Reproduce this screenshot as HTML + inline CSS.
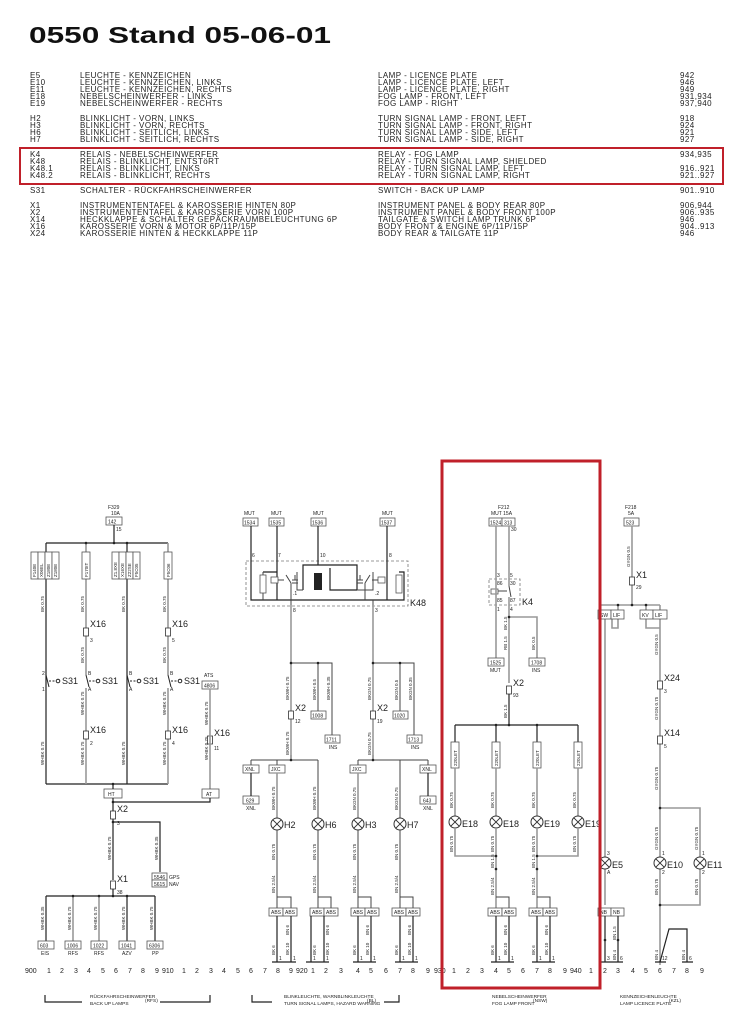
<!DOCTYPE html>
<html><head><meta charset="utf-8"><style>
html,body{margin:0;padding:0;background:#fff;width:730px;height:1024px;overflow:hidden}
svg{display:block}
text{font-family:"Liberation Sans",sans-serif;fill:#222}
.t{font-size:8px;letter-spacing:.45px}
.s{font-size:5px}
.v{font-size:4.5px}
.b{font-size:9px}
.w{stroke:#444;stroke-width:1;fill:none}
.g{stroke:#999;stroke-width:1.6;fill:none}
.k{stroke:#222;stroke-width:1.2;fill:none}
.bx{fill:#fff;stroke:#555;stroke-width:.8}
.d{stroke:#777;stroke-width:.8;fill:none;stroke-dasharray:3,2}
</style></head><body>
<svg width="730" height="1024" viewBox="0 0 730 1024" xmlns="http://www.w3.org/2000/svg">
<defs>
<g id="lamp"><circle r="6" fill="#fff" stroke="#333" stroke-width="1"/><path d="M-4.2 -4.2L4.2 4.2M4.2 -4.2L-4.2 4.2" stroke="#333" stroke-width="1"/></g>
<g id="conn"><rect x="-2.5" y="-4" width="5" height="8" fill="#fff" stroke="#333" stroke-width=".8"/></g>
<g id="dot"><circle r="1.3" fill="#222"/></g>
</defs>
<text x="29" y="43" textLength="302" lengthAdjust="spacingAndGlyphs" style="font-size:23px;font-weight:bold;fill:#111">0550 Stand 05-06-01</text>

<g class="t">
<text x="30" y="78">E5</text><text x="80" y="78">LEUCHTE - KENNZEICHEN</text><text x="378" y="78">LAMP - LICENCE PLATE</text><text x="680" y="78">942</text>
<text x="30" y="85">E10</text><text x="80" y="85">LEUCHTE - KENNZEICHEN, LINKS</text><text x="378" y="85">LAMP - LICENCE PLATE, LEFT</text><text x="680" y="85">946</text>
<text x="30" y="92">E11</text><text x="80" y="92">LEUCHTE - KENNZEICHEN, RECHTS</text><text x="378" y="92">LAMP - LICENCE PLATE, RIGHT</text><text x="680" y="92">949</text>
<text x="30" y="99">E18</text><text x="80" y="99">NEBELSCHEINWERFER - LINKS</text><text x="378" y="99">FOG LAMP - FRONT, LEFT</text><text x="680" y="99">931,934</text>
<text x="30" y="106">E19</text><text x="80" y="106">NEBELSCHEINWERFER - RECHTS</text><text x="378" y="106">FOG LAMP - RIGHT</text><text x="680" y="106">937,940</text>
<text x="30" y="121">H2</text><text x="80" y="121">BLINKLICHT - VORN, LINKS</text><text x="378" y="121">TURN SIGNAL LAMP - FRONT, LEFT</text><text x="680" y="121">918</text>
<text x="30" y="128">H3</text><text x="80" y="128">BLINKLICHT - VORN, RECHTS</text><text x="378" y="128">TURN SIGNAL LAMP - FRONT, RIGHT</text><text x="680" y="128">924</text>
<text x="30" y="135">H6</text><text x="80" y="135">BLINKLICHT - SEITLICH, LINKS</text><text x="378" y="135">TURN SIGNAL LAMP - SIDE, LEFT</text><text x="680" y="135">921</text>
<text x="30" y="142">H7</text><text x="80" y="142">BLINKLICHT - SEITLICH, RECHTS</text><text x="378" y="142">TURN SIGNAL LAMP - SIDE, RIGHT</text><text x="680" y="142">927</text>
<text x="30" y="157">K4</text><text x="80" y="157">RELAIS - NEBELSCHEINWERFER</text><text x="378" y="157">RELAY - FOG LAMP</text><text x="680" y="157">934,935</text>
<text x="30" y="164">K48</text><text x="80" y="164">RELAIS - BLINKLICHT, ENTSTöRT</text><text x="378" y="164">RELAY - TURN SIGNAL LAMP, SHIELDED</text>
<text x="30" y="171">K48.1</text><text x="80" y="171">RELAIS - BLINKLICHT, LINKS</text><text x="378" y="171">RELAY - TURN SIGNAL LAMP, LEFT</text><text x="680" y="171">916..921</text>
<text x="30" y="178">K48.2</text><text x="80" y="178">RELAIS - BLINKLICHT, RECHTS</text><text x="378" y="178">RELAY - TURN SIGNAL LAMP, RIGHT</text><text x="680" y="178">921..927</text>
<text x="30" y="193">S31</text><text x="80" y="193">SCHALTER - RÜCKFAHRSCHEINWERFER</text><text x="378" y="193">SWITCH - BACK UP LAMP</text><text x="680" y="193">901..910</text>
<text x="30" y="208">X1</text><text x="80" y="208">INSTRUMENTENTAFEL &amp; KAROSSERIE HINTEN 80P</text><text x="378" y="208">INSTRUMENT PANEL &amp; BODY REAR 80P</text><text x="680" y="208">906,944</text>
<text x="30" y="215">X2</text><text x="80" y="215">INSTRUMENTENTAFEL &amp; KAROSSERIE VORN 100P</text><text x="378" y="215">INSTRUMENT PANEL &amp; BODY FRONT 100P</text><text x="680" y="215">906..935</text>
<text x="30" y="222">X14</text><text x="80" y="222">HECKKLAPPE &amp; SCHALTER GEPÄCKRAUMBELEUCHTUNG 6P</text><text x="378" y="222">TAILGATE &amp; SWITCH LAMP TRUNK 6P</text><text x="680" y="222">946</text>
<text x="30" y="229">X16</text><text x="80" y="229">KAROSSERIE VORN &amp; MOTOR  6P/11P/15P</text><text x="378" y="229">BODY FRONT &amp; ENGINE 6P/11P/15P</text><text x="680" y="229">904..913</text>
<text x="30" y="236">X24</text><text x="80" y="236">KAROSSERIE HINTEN &amp; HECKKLAPPE 11P</text><text x="378" y="236">BODY REAR &amp; TAILGATE 11P</text><text x="680" y="236">946</text>
</g>
<rect x="20" y="148" width="703" height="36" fill="none" stroke="#c0202a" stroke-width="2"/>

<!-- ===== LEFT: RFS ===== -->
<text x="108" y="509" class="s">F329</text><text x="111" y="515" class="s">10A</text>
<rect x="106" y="517" width="16" height="8" class="bx"/><text x="108" y="523.5" class="s">142</text><text x="116" y="531" class="s">15</text>
<path class="k" d="M114 525V543M46 543H168M46 543V784M127 543V784M46 784H168"/>
<path class="g" d="M86 543V675M168 543V675M86 688V784M168 688V784"/>
<use href="#dot" x="86" y="543"/><use href="#dot" x="114" y="543"/><use href="#dot" x="127" y="543"/>
<g class="bx"><rect x="31" y="552" width="7" height="27"/><rect x="38" y="552" width="7" height="27"/><rect x="45" y="552" width="7" height="27"/><rect x="52" y="552" width="7" height="27"/>
<rect x="82" y="552" width="8" height="27"/><rect x="112" y="552" width="7" height="27"/><rect x="119" y="552" width="7" height="27"/><rect x="126" y="552" width="7" height="27"/><rect x="133" y="552" width="7" height="27"/><rect x="164" y="552" width="8" height="27"/></g>
<g class="v"><text transform="translate(36,577) rotate(-90)">F140E</text><text transform="translate(43,577) rotate(-90)">X06EL</text><text transform="translate(50,577) rotate(-90)">Z180E</text><text transform="translate(57,577) rotate(-90)">Z180E</text>
<text transform="translate(88,577) rotate(-90)">F170IT</text><text transform="translate(117,577) rotate(-90)">Z1.8XE</text><text transform="translate(124,577) rotate(-90)">X16XE</text><text transform="translate(131,577) rotate(-90)">Z22SE</text><text transform="translate(138,577) rotate(-90)">F5C05</text><text transform="translate(170,577) rotate(-90)">F5C06</text>
<text transform="translate(44,612) rotate(-90)">BK 0.75</text><text transform="translate(84,612) rotate(-90)">BK 0.75</text><text transform="translate(125,612) rotate(-90)">BK 0.75</text><text transform="translate(166,612) rotate(-90)">BK 0.75</text>
<text transform="translate(84,663) rotate(-90)">BK 0.75</text><text transform="translate(166,663) rotate(-90)">BK 0.75</text>
<text transform="translate(44,765) rotate(-90)">WHBK 0.75</text><text transform="translate(84,765) rotate(-90)">WHBK 0.75</text><text transform="translate(125,765) rotate(-90)">WHBK 0.75</text><text transform="translate(166,765) rotate(-90)">WHBK 0.75</text>
<text transform="translate(84,715) rotate(-90)">WHBK 0.75</text><text transform="translate(166,715) rotate(-90)">WHBK 0.75</text><text transform="translate(208,725) rotate(-90)">WHBK 0.75</text><text transform="translate(208,760) rotate(-90)">WHBK 0.75</text>
<text transform="translate(111,860) rotate(-90)">WHBK 0.75</text><text transform="translate(158,860) rotate(-90)">WHBK 0.35</text>
<text transform="translate(44,930) rotate(-90)">WHBK 0.35</text><text transform="translate(71,930) rotate(-90)">WHBK 0.75</text><text transform="translate(97,930) rotate(-90)">WHBK 0.75</text><text transform="translate(125,930) rotate(-90)">WHBK 0.75</text><text transform="translate(153,930) rotate(-90)">WHBK 0.75</text></g>
<use href="#conn" x="86" y="632"/><use href="#conn" x="168" y="632"/><use href="#conn" x="86" y="735"/><use href="#conn" x="168" y="735"/><use href="#conn" x="210" y="740"/>
<g class="b"><text x="90" y="627">X16</text><text x="172" y="627">X16</text><text x="90" y="733">X16</text><text x="172" y="733">X16</text><text x="214" y="736">X16</text></g>
<g class="s"><text x="90" y="642">3</text><text x="172" y="642">5</text><text x="90" y="745">2</text><text x="172" y="745">4</text><text x="214" y="750">11</text></g>
<g stroke="#222" stroke-width="1" fill="none">
<path d="M46 675L49 687M86 675L89 687M127 675L130 687M168 675L171 687"/>
<path d="M49 681H56M89 681H96M130 681H137M171 681H178" stroke-dasharray="2,1.5"/>
<circle cx="58" cy="681" r="1.8"/><circle cx="98" cy="681" r="1.8"/><circle cx="139" cy="681" r="1.8"/><circle cx="180" cy="681" r="1.8"/></g>
<g class="b"><text x="62" y="684">S31</text><text x="102" y="684">S31</text><text x="143" y="684">S31</text><text x="184" y="684">S31</text></g>
<g class="s"><text x="42" y="675">2</text><text x="42" y="691">1</text><text x="88" y="675">B</text><text x="88" y="691">A</text><text x="129" y="675">B</text><text x="129" y="691">A</text><text x="170" y="675">B</text><text x="170" y="691">A</text></g>
<text x="204" y="677" class="s">ATS</text><rect x="202" y="681" width="16" height="8" class="bx"/><text x="204" y="687.5" class="s">4806</text>
<path class="g" d="M210 689V789"/>
<rect x="104" y="789" width="18" height="9" class="bx"/><text x="108" y="796" class="s">HT</text>
<rect x="202" y="789" width="17" height="9" class="bx"/><text x="206" y="796" class="s">AT</text>
<path class="k" d="M113 784V789M113 798V880M210 798V802H113M113 822H160V872"/>
<use href="#dot" x="113" y="784"/><use href="#dot" x="113" y="802"/><use href="#dot" x="113" y="822"/>
<use href="#conn" x="113" y="815"/><text x="117" y="812" class="b">X2</text><text x="117" y="825" class="s">3</text>
<rect x="152" y="873" width="15" height="7" class="bx"/><rect x="152" y="880" width="15" height="7" class="bx"/>
<text x="154" y="879" class="s">5546</text><text x="154" y="886" class="s">5615</text><text x="169" y="879" class="s">GPS</text><text x="169" y="886" class="s">NAV</text>
<use href="#conn" x="113" y="885"/><text x="117" y="882" class="b">X1</text><text x="117" y="894" class="s">38</text>
<path class="k" d="M113 889V896M46 896H155M46 896V941M127 896V941M155 896V941"/>
<path class="g" d="M73 896V941M99 896V941"/>
<use href="#dot" x="73" y="896"/><use href="#dot" x="99" y="896"/><use href="#dot" x="113" y="896"/><use href="#dot" x="127" y="896"/>
<g class="bx"><rect x="38" y="941" width="16" height="8"/><rect x="65" y="941" width="16" height="8"/><rect x="91" y="941" width="16" height="8"/><rect x="119" y="941" width="16" height="8"/><rect x="147" y="941" width="16" height="8"/></g>
<g class="s"><text x="40" y="947.5">603</text><text x="67" y="947.5">1006</text><text x="93" y="947.5">1022</text><text x="121" y="947.5">1041</text><text x="149" y="947.5">6306</text>
<text x="41" y="955">EIS</text><text x="68" y="955">RFS</text><text x="94" y="955">RFS</text><text x="122" y="955">AZV</text><text x="152" y="955">PP</text></g>

<!-- ===== MIDDLE: BL ===== -->
<g class="s"><text x="244" y="515">MUT</text><text x="271" y="515">MUT</text><text x="313" y="515">MUT</text><text x="382" y="515">MUT</text></g>
<g class="bx"><rect x="243" y="518" width="15" height="8"/><rect x="269" y="518" width="15" height="8"/><rect x="311" y="518" width="15" height="8"/><rect x="380" y="518" width="15" height="8"/></g>
<g class="s"><text x="244" y="524.5">1534</text><text x="270" y="524.5">1535</text><text x="312" y="524.5">1536</text><text x="381" y="524.5">1537</text>
<text x="252" y="557">6</text><text x="278" y="557">7</text><text x="320" y="557">10</text><text x="389" y="557">8</text><text x="293" y="612">8</text><text x="375" y="612">3</text></g>
<rect x="246" y="561" width="162" height="45" class="d"/><text x="410" y="606" class="b">K48</text>
<path class="k" d="M251 526V600H404V572H399M277 526V600M318 526V565M387 526V600M263 572H277M318 565H357V590M318 565H303V590M357 590H330V568"/>
<path class="w" d="M263 572V600M297 572V590H303M373 572V590H357M291 600V605M373 600V605"/>
<rect x="260" y="575" width="6" height="18" class="bx"/><rect x="396" y="575" width="6" height="18" class="bx"/>
<rect x="271" y="577" width="7" height="6" class="bx"/><rect x="378" y="577" width="7" height="6" class="bx"/>
<rect x="314" y="573" width="8" height="17" fill="#222"/>
<path class="w" d="M278 580H284M286 575L291 583M291 583V600M378 580H372M370 575L365 583M365 583V600M295 575V580M292 580H298M292 583H298M360 575V580M357 580H363M357 583H363"/>
<g class="s"><text x="293" y="595">.1</text><text x="375" y="595">.2</text></g>
<path class="g" d="M291 605V755M373 605V755"/>
<path class="w" d="M291 663H332V735M318 663V711M373 663H414V735M400 663V711"/>
<use href="#dot" x="291" y="663"/><use href="#dot" x="318" y="663"/><use href="#dot" x="373" y="663"/><use href="#dot" x="400" y="663"/>
<g class="bx"><rect x="311" y="711" width="15" height="8"/><rect x="325" y="735" width="15" height="8"/><rect x="393" y="711" width="15" height="8"/><rect x="407" y="735" width="15" height="8"/></g>
<g class="s"><text x="312" y="717.5">1008</text><text x="326" y="741.5">1711</text><text x="394" y="717.5">1020</text><text x="408" y="741.5">1713</text><text x="329" y="749">INS</text><text x="411" y="749">INS</text></g>
<use href="#conn" x="291" y="715"/><use href="#conn" x="373" y="715"/>
<g class="b"><text x="295" y="711">X2</text><text x="377" y="711">X2</text></g><g class="s"><text x="295" y="723">12</text><text x="377" y="723">19</text></g>
<path class="w" d="M291 755V760M251 760H318M251 760V766M277 760V766M318 760V818M373 755V760M358 760H428M358 760V766M400 760V818M428 760V766"/>
<use href="#dot" x="291" y="760"/><use href="#dot" x="373" y="760"/>
<g class="bx"><rect x="243" y="765" width="16" height="8"/><rect x="269" y="765" width="16" height="8"/><rect x="350" y="765" width="16" height="8"/><rect x="420" y="765" width="16" height="8"/>
<rect x="243" y="796" width="16" height="8"/><rect x="420" y="796" width="16" height="8"/></g>
<g class="s"><text x="245" y="771">XNL</text><text x="271" y="771">JXC</text><text x="352" y="771">JXC</text><text x="422" y="771">XNL</text>
<text x="246" y="802.5">629</text><text x="423" y="802.5">643</text><text x="246" y="810">XNL</text><text x="423" y="810">XNL</text></g>
<path class="k" d="M251 773V796M428 773V796"/>
<path class="g" d="M277 773V818M358 773V818"/>
<use href="#lamp" x="277" y="824"/><use href="#lamp" x="318" y="824"/><use href="#lamp" x="358" y="824"/><use href="#lamp" x="400" y="824"/>
<g class="b"><text x="284" y="828">H2</text><text x="325" y="828">H6</text><text x="365" y="828">H3</text><text x="407" y="828">H7</text></g>
<path class="w" d="M277 830V908M318 830V908M358 830V908M400 830V908"/>
<path class="w" d="M277 897H291V908M318 897H331V908M358 897H371V908M400 897H413V908"/>
<g class="bx"><rect x="269" y="908" width="14" height="8"/><rect x="283" y="908" width="14" height="8"/><rect x="310" y="908" width="14" height="8"/><rect x="324" y="908" width="14" height="8"/><rect x="351" y="908" width="14" height="8"/><rect x="365" y="908" width="14" height="8"/><rect x="392" y="908" width="14" height="8"/><rect x="406" y="908" width="14" height="8"/></g>
<g class="s"><text x="271" y="914">ABS</text><text x="285" y="914">ABS</text><text x="312" y="914">ABS</text><text x="326" y="914">ABS</text><text x="353" y="914">ABS</text><text x="367" y="914">ABS</text><text x="394" y="914">ABS</text><text x="408" y="914">ABS</text></g>
<path class="k" d="M277 916V962M291 916V962M311 916V962M324 916V962M358 916V962M371 916V962M400 916V962M413 916V962"/>
<g class="v">
<text transform="translate(289,755) rotate(-90)">BKWH 0.75</text><text transform="translate(289,700) rotate(-90)">BKWH 0.75</text><text transform="translate(316,700) rotate(-90)">BKWH 0.5</text><text transform="translate(330,700) rotate(-90)">BKWH 0.35</text>
<text transform="translate(371,755) rotate(-90)">BKGN 0.75</text><text transform="translate(371,700) rotate(-90)">BKGN 0.75</text><text transform="translate(398,700) rotate(-90)">BKGN 0.5</text><text transform="translate(412,700) rotate(-90)">BKGN 0.35</text>
<text transform="translate(275,810) rotate(-90)">BKWH 0.75</text><text transform="translate(316,810) rotate(-90)">BKWH 0.75</text><text transform="translate(356,810) rotate(-90)">BKGN 0.75</text><text transform="translate(398,810) rotate(-90)">BKGN 0.75</text>
<text transform="translate(275,860) rotate(-90)">BN 0.75</text><text transform="translate(316,860) rotate(-90)">BN 0.75</text><text transform="translate(356,860) rotate(-90)">BN 0.75</text><text transform="translate(398,860) rotate(-90)">BN 0.75</text>
<text transform="translate(275,893) rotate(-90)">BN 2.5/4</text><text transform="translate(316,893) rotate(-90)">BN 2.5/4</text><text transform="translate(356,893) rotate(-90)">BN 2.5/4</text><text transform="translate(398,893) rotate(-90)">BN 2.5/4</text>
<text transform="translate(275,955) rotate(-90)">BK 6</text><text transform="translate(289,955) rotate(-90)">BK 10</text><text transform="translate(316,955) rotate(-90)">BK 6</text><text transform="translate(329,955) rotate(-90)">BK 10</text><text transform="translate(356,955) rotate(-90)">BK 6</text><text transform="translate(369,955) rotate(-90)">BK 10</text><text transform="translate(398,955) rotate(-90)">BK 6</text><text transform="translate(411,955) rotate(-90)">BK 10</text>
<text transform="translate(289,935) rotate(-90)">BN 6</text><text transform="translate(329,935) rotate(-90)">BN 6</text><text transform="translate(369,935) rotate(-90)">BN 6</text><text transform="translate(411,935) rotate(-90)">BN 6</text></g>

<!-- ===== FOG (NSW) ===== -->
<text x="498" y="509" class="s">F212</text><text x="491" y="515" class="s">MUT  15A</text>
<g class="bx"><rect x="489" y="518" width="13" height="8"/><rect x="502" y="518" width="13" height="8"/></g>
<g class="s"><text x="490" y="524.5">1524</text><text x="504" y="524.5">313</text><text x="511" y="531">30</text></g>
<rect x="489" y="579" width="31" height="26" class="d"/><text x="522" y="605" class="b">K4</text>
<g class="s"><text x="497" y="577">3</text><text x="510" y="577">5</text><text x="497" y="585">86</text><text x="510" y="585">30</text><text x="497" y="602">85</text><text x="510" y="602">87</text><text x="497" y="611">1</text><text x="510" y="611">4</text></g>
<rect x="491" y="589" width="7" height="5" class="bx"/><path class="w" d="M498 591H507M509 586L511 597"/>
<path class="g" d="M496 526V658M509 526V586M509 597V683M509 617H537V658"/>
<use href="#dot" x="509" y="617"/>
<g class="bx"><rect x="488" y="658" width="16" height="8"/><rect x="529" y="658" width="16" height="8"/></g>
<g class="s"><text x="490" y="664.5">1525</text><text x="531" y="664.5">1708</text><text x="490" y="672">MUT</text><text x="532" y="672">INS</text></g>
<use href="#conn" x="509" y="690"/><text x="513" y="686" class="b">X2</text><text x="513" y="697" class="s">93</text>
<path class="k" d="M509 694V725M455 725H578M455 725V742M496 725V742M537 725V742M578 725V742"/>
<use href="#dot" x="496" y="725"/><use href="#dot" x="509" y="725"/><use href="#dot" x="537" y="725"/>
<g class="bx"><rect x="451" y="742" width="8" height="26"/><rect x="492" y="742" width="8" height="26"/><rect x="533" y="742" width="8" height="26"/><rect x="574" y="742" width="8" height="26"/></g>
<g class="v"><text transform="translate(457,766) rotate(-90)">220LET</text><text transform="translate(498,766) rotate(-90)">220LET</text><text transform="translate(539,766) rotate(-90)">220LET</text><text transform="translate(580,766) rotate(-90)">220LET</text></g>
<path class="g" d="M455 768V816M496 768V816M537 768V816M578 768V816"/>
<use href="#lamp" x="455" y="822"/><use href="#lamp" x="496" y="822"/><use href="#lamp" x="537" y="822"/><use href="#lamp" x="578" y="822"/>
<g class="b"><text x="462" y="827">E18</text><text x="503" y="827">E18</text><text x="544" y="827">E19</text><text x="585" y="827">E19</text></g>
<path class="g" d="M455 828V856H496M537 856H578V828M496 828V908M537 828V908"/>
<path class="w" d="M496 897H509V908M537 897H550V908"/>
<use href="#dot" x="496" y="856"/><use href="#dot" x="537" y="856"/><use href="#dot" x="496" y="869"/><use href="#dot" x="537" y="869"/>
<g class="bx"><rect x="488" y="908" width="14" height="8"/><rect x="502" y="908" width="14" height="8"/><rect x="529" y="908" width="14" height="8"/><rect x="543" y="908" width="14" height="8"/></g>
<g class="s"><text x="490" y="914">ABS</text><text x="504" y="914">ABS</text><text x="531" y="914">ABS</text><text x="545" y="914">ABS</text></g>
<path class="k" d="M496 916V962M509 916V962M537 916V962M550 916V962"/>
<g class="v"><text transform="translate(507,650) rotate(-90)">RB 1.5</text><text transform="translate(507,630) rotate(-90)">BK 1.5</text><text transform="translate(535,650) rotate(-90)">BK 0.5</text><text transform="translate(507,718) rotate(-90)">BK 1.5</text>
<text transform="translate(453,808) rotate(-90)">BK 0.75</text><text transform="translate(494,808) rotate(-90)">BK 0.75</text><text transform="translate(535,808) rotate(-90)">BK 0.75</text><text transform="translate(576,808) rotate(-90)">BK 0.75</text>
<text transform="translate(453,852) rotate(-90)">BN 0.75</text><text transform="translate(494,852) rotate(-90)">BN 0.75</text><text transform="translate(535,852) rotate(-90)">BN 0.75</text><text transform="translate(576,852) rotate(-90)">BN 0.75</text>
<text transform="translate(494,868) rotate(-90)">BN 1.5</text><text transform="translate(535,868) rotate(-90)">BN 1.5</text><text transform="translate(494,895) rotate(-90)">BN 2.5/4</text><text transform="translate(535,895) rotate(-90)">BN 2.5/4</text>
<text transform="translate(494,955) rotate(-90)">BK 6</text><text transform="translate(507,955) rotate(-90)">BK 10</text><text transform="translate(535,955) rotate(-90)">BK 6</text><text transform="translate(548,955) rotate(-90)">BK 10</text><text transform="translate(507,935) rotate(-90)">BN 6</text><text transform="translate(548,935) rotate(-90)">BN 6</text></g>

<!-- ===== KZL ===== -->
<text x="625" y="509" class="s">F218</text><text x="628" y="515" class="s">5A</text>
<rect x="624" y="518" width="15" height="8" class="bx"/><text x="626" y="524.5" class="s">523</text>
<path class="g" d="M632 526V605M600 605H660M600 605V610M618 605V610M646 605V610M660 605V610M612 619V628H618V619M646 619V628H660M605 619V905M660 619V965"/>
<use href="#dot" x="618" y="605"/><use href="#dot" x="646" y="605"/><use href="#dot" x="632" y="605"/>
<use href="#conn" x="632" y="581"/><text x="636" y="578" class="b">X1</text><text x="636" y="589" class="s">29</text>
<g class="bx"><rect x="598" y="610" width="13" height="9"/><rect x="611" y="610" width="13" height="9"/><rect x="640" y="610" width="13" height="9"/><rect x="653" y="610" width="14" height="9"/></g>
<g class="s"><text x="600" y="617">SW</text><text x="613" y="617">LIF</text><text x="642" y="617">KV</text><text x="655" y="617">LIF</text></g>
<use href="#conn" x="660" y="685"/><text x="664" y="681" class="b">X24</text><text x="664" y="693" class="s">3</text>
<use href="#conn" x="660" y="740"/><text x="664" y="736" class="b">X14</text><text x="664" y="748" class="s">5</text>
<path class="g" d="M660 808H700V857M700 869V905H660"/>
<use href="#dot" x="660" y="808"/><use href="#dot" x="660" y="905"/>
<use href="#lamp" x="605" y="863"/><use href="#lamp" x="660" y="863"/><use href="#lamp" x="700" y="863"/>
<g class="b"><text x="612" y="868">E5</text><text x="667" y="868">E10</text><text x="707" y="868">E11</text></g>
<g class="s"><text x="607" y="855">3</text><text x="607" y="874">A</text><text x="662" y="855">1</text><text x="662" y="874">2</text><text x="702" y="855">1</text><text x="702" y="874">2</text></g>
<g class="bx"><rect x="598" y="908" width="13" height="8"/><rect x="611" y="908" width="13" height="8"/></g>
<g class="s"><text x="600" y="914">NB</text><text x="613" y="914">NB</text></g>
<path class="k" d="M605 916V962M618 916V962M660 962L669 929H687V962"/>
<use href="#dot" x="605" y="940"/><use href="#dot" x="618" y="940"/>
<g class="v"><text transform="translate(630,567) rotate(-90)">GYGN 0.5</text><text transform="translate(658,655) rotate(-90)">GYGN 0.5</text><text transform="translate(658,720) rotate(-90)">GYGN 0.75</text><text transform="translate(658,790) rotate(-90)">GYGN 0.75</text>
<text transform="translate(658,850) rotate(-90)">GYGN 0.75</text><text transform="translate(698,850) rotate(-90)">GYGN 0.75</text><text transform="translate(658,895) rotate(-90)">BN 0.75</text><text transform="translate(698,895) rotate(-90)">BN 0.75</text>
<text transform="translate(616,940) rotate(-90)">BN 1.5</text><text transform="translate(616,960) rotate(-90)">BN 4</text><text transform="translate(658,960) rotate(-90)">BN 4</text><text transform="translate(685,960) rotate(-90)">BN 4</text></g>

<g class="k" stroke-width=".8">
<path d="M272 962H296M306 962H329M353 962H376M395 962H418M491 962H514M532 962H555M600 962H623M655 962H666M682 962H693"/></g>
<g class="s"><text x="279" y="960">1</text><text x="293" y="960">1</text><text x="313" y="960">1</text><text x="326" y="960">1</text><text x="360" y="960">1</text><text x="373" y="960">1</text><text x="402" y="960">1</text><text x="415" y="960">1</text><text x="498" y="960">1</text><text x="511" y="960">1</text><text x="539" y="960">1</text><text x="552" y="960">1</text><text x="607" y="960">3</text><text x="620" y="960">6</text><text x="662" y="960">12</text><text x="689" y="960">6</text></g>

<g style="font-size:7px">
<text x="25" y="973">900</text><text x="47" y="973">1</text><text x="60" y="973">2</text><text x="74" y="973">3</text><text x="87" y="973">4</text><text x="101" y="973">5</text><text x="114" y="973">6</text><text x="128" y="973">7</text><text x="141" y="973">8</text><text x="155" y="973">9</text>
<text x="162" y="973">910</text><text x="182" y="973">1</text><text x="195" y="973">2</text><text x="209" y="973">3</text><text x="222" y="973">4</text><text x="236" y="973">5</text><text x="249" y="973">6</text><text x="263" y="973">7</text><text x="276" y="973">8</text><text x="289" y="973">9</text>
<text x="296" y="973">920</text><text x="311" y="973">1</text><text x="324" y="973">2</text><text x="339" y="973">3</text><text x="356" y="973">4</text><text x="369" y="973">5</text><text x="384" y="973">6</text><text x="398" y="973">7</text><text x="411" y="973">8</text><text x="426" y="973">9</text><text x="434" y="973">930</text>
<text x="452" y="973">1</text><text x="466" y="973">2</text><text x="480" y="973">3</text><text x="494" y="973">4</text><text x="507" y="973">5</text><text x="521" y="973">6</text><text x="535" y="973">7</text><text x="548" y="973">8</text><text x="563" y="973">9</text><text x="570" y="973">940</text><text x="589" y="973">1</text><text x="603" y="973">2</text><text x="616" y="973">3</text><text x="631" y="973">4</text><text x="644" y="973">5</text><text x="658" y="973">6</text><text x="672" y="973">7</text><text x="685" y="973">8</text><text x="700" y="973">9</text></g>

<rect x="442" y="461" width="158" height="527" fill="none" stroke="#c0202a" stroke-width="3"/>

<path class="k" stroke-width=".8" d="M45 995V1002H82M160 1002H210V995M252 995V1002H272M384 1002H399V995"/>
<g style="font-size:4.8px"><text x="90" y="998">RÜCKFAHRSCHEINWERFER</text><text x="90" y="1005">BACK UP LAMPS</text><text x="145" y="1002">(RFS)</text>
<text x="284" y="998">BLINKLEUCHTE, WARNBLINKLEUCHTE</text><text x="284" y="1005">TURN SIGNAL LAMPS, HAZARD WARNING</text><text x="367" y="1002">(BL)</text>
<text x="492" y="998">NEBELSCHEINWERFER</text><text x="492" y="1005">FOG LAMP FRONT</text><text x="533" y="1002">(NSW)</text>
<text x="620" y="998">KENNZEICHENLEUCHTE</text><text x="620" y="1005">LAMP LICENCE PLATE</text><text x="669" y="1002">(KZL)</text></g>
</svg>
</body></html>
